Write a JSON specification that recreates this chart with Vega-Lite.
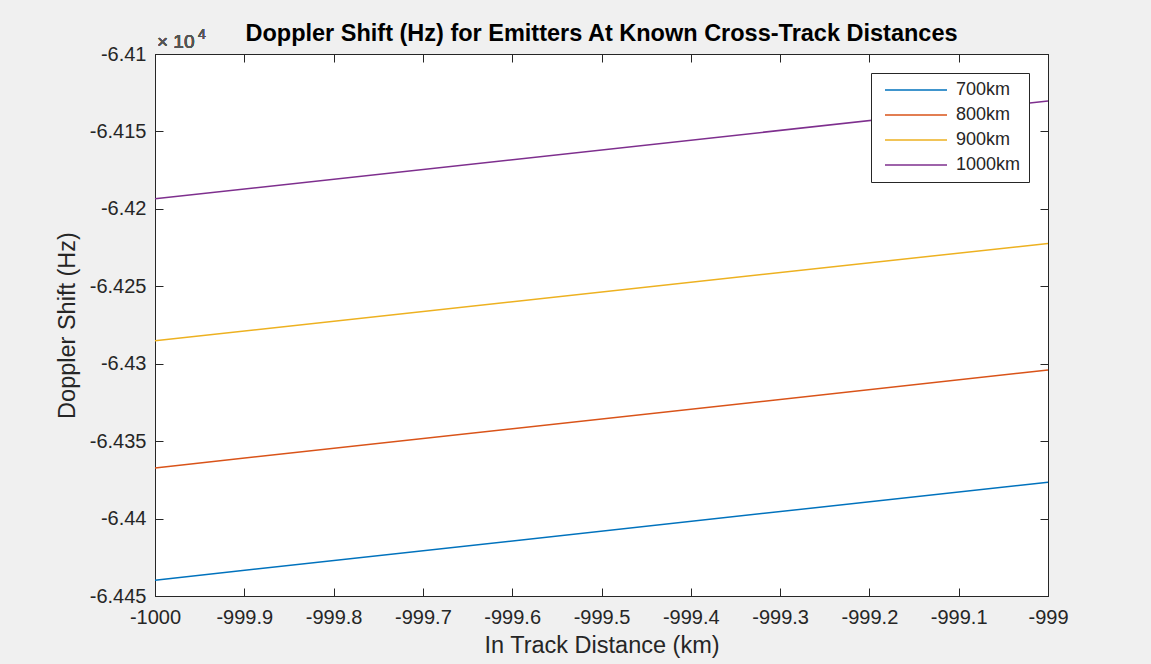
{
  "$schema": "https://vega.github.io/schema/vega-lite/v6.json",
  "autosize": "none",
  "width": 893,
  "height": 542,
  "padding": {"left": 155, "top": 54, "right": 103, "bottom": 68},
  "background": "#f0f0f0",
  "title": {
    "text": "Doppler Shift (Hz) for Emitters At Known Cross-Track Distances",
    "font": "Liberation Sans",
    "fontSize": 23.5,
    "fontWeight": "bold",
    "color": "#000000",
    "offset": -17,
    "anchor": "middle"
  },
  "config": {
    "view": {"fill": "#ffffff", "stroke": "#262626", "strokeWidth": 1},
    "axis": {
      "grid": false,
      "domainColor": "#262626",
      "tickColor": "#262626",
      "labelColor": "#262626",
      "titleColor": "#262626",
      "labelFont": "Liberation Sans",
      "titleFont": "Liberation Sans",
      "labelFontSize": 20,
      "titleFontSize": 23.5,
      "titleFontWeight": "normal",
      "tickSize": -8,
      "domainWidth": 1,
      "labelFlush": false,
      "labelOverlap": false
    },
    "legend": {
      "orient": "top-right",
      "offset": 19,
      "strokeColor": "#262626",
      "fillColor": "#ffffff",
      "padding": 8,
      "symbolType": "M-0.6,0H11.8",
      "symbolSize": 100,
      "symbolStrokeWidth": 1.5,
      "labelFont": "Liberation Sans",
      "labelFontSize": 18,
      "labelColor": "#262626",
      "rowPadding": 7,
      "labelOffset": 59
    }
  },
  "data": {
    "values": [
      {"d": -1000, "f": -64439.8, "series": "700km"},
      {"d": -999, "f": -64376.5, "series": "700km"},
      {"d": -1000, "f": -64367.3, "series": "800km"},
      {"d": -999, "f": -64304.1, "series": "800km"},
      {"d": -1000, "f": -64285.2, "series": "900km"},
      {"d": -999, "f": -64222.3, "series": "900km"},
      {"d": -1000, "f": -64193.5, "series": "1000km"},
      {"d": -999, "f": -64130.4, "series": "1000km"}
    ]
  },
  "resolve": {"axis": {"x": "independent", "y": "independent"}},
  "layer": [
    {
      "mark": {"type": "line", "strokeWidth": 1.5},
      "encoding": {
        "x": {
          "field": "d", "type": "quantitative",
          "scale": {"domain": [-1000, -999], "nice": false, "zero": false},
          "axis": {
            "orient": "bottom",
            "values": [-1000, -999.9, -999.8, -999.7, -999.6, -999.5, -999.4, -999.3, -999.2, -999.1, -999],
            "labelExpr": "replace(format(datum.value, '~f'), '\u2212', '-')",
            "labelPadding": 19,
            "title": "In Track Distance (km)",
            "titlePadding": 6
          }
        },
        "y": {
          "field": "f", "type": "quantitative",
          "scale": {"domain": [-64450, -64100], "nice": false, "zero": false},
          "axis": {
            "orient": "left",
            "values": [-64450, -64400, -64350, -64300, -64250, -64200, -64150, -64100],
            "labelExpr": "replace(format(datum.value / 10000, '.4~f'), '\u2212', '-')",
            "labelPadding": 17,
            "title": "Doppler Shift (Hz)",
            "titlePadding": 10
          }
        },
        "color": {
          "field": "series", "type": "nominal",
          "sort": ["700km", "800km", "900km", "1000km"],
          "scale": {"domain": ["700km", "800km", "900km", "1000km"], "range": ["#0072BD", "#D95319", "#EDB120", "#7E2F8E"]},
          "legend": {"title": null}
        }
      }
    },
    {
      "mark": {"type": "line", "strokeOpacity": 0},
      "encoding": {
        "x": {
          "field": "d", "type": "quantitative",
          "axis": {
            "orient": "top",
            "values": [-1000, -999.9, -999.8, -999.7, -999.6, -999.5, -999.4, -999.3, -999.2, -999.1, -999],
            "labels": false, "title": null
          }
        },
        "y": {
          "field": "f", "type": "quantitative",
          "axis": {
            "orient": "right",
            "values": [-64450, -64400, -64350, -64300, -64250, -64200, -64150, -64100],
            "labels": false, "title": null
          }
        },
        "detail": {"field": "series"}
      }
    },
    {
      "mark": {"type": "text", "align": "left", "baseline": "alphabetic", "dy": -6, "dx": 2, "font": "Liberation Sans", "fontSize": 19, "color": "#555555"},
      "encoding": {
        "x": {"datum": -1000, "type": "quantitative", "axis": null},
        "y": {"datum": -64100, "type": "quantitative", "axis": null},
        "text": {"value": "× 10"}
      }
    },
    {
      "mark": {"type": "text", "align": "left", "baseline": "alphabetic", "dy": -15, "dx": 43, "font": "Liberation Sans", "fontSize": 14, "color": "#555555"},
      "encoding": {
        "x": {"datum": -1000, "type": "quantitative", "axis": null},
        "y": {"datum": -64100, "type": "quantitative", "axis": null},
        "text": {"value": "4"}
      }
    }
  ]
}
